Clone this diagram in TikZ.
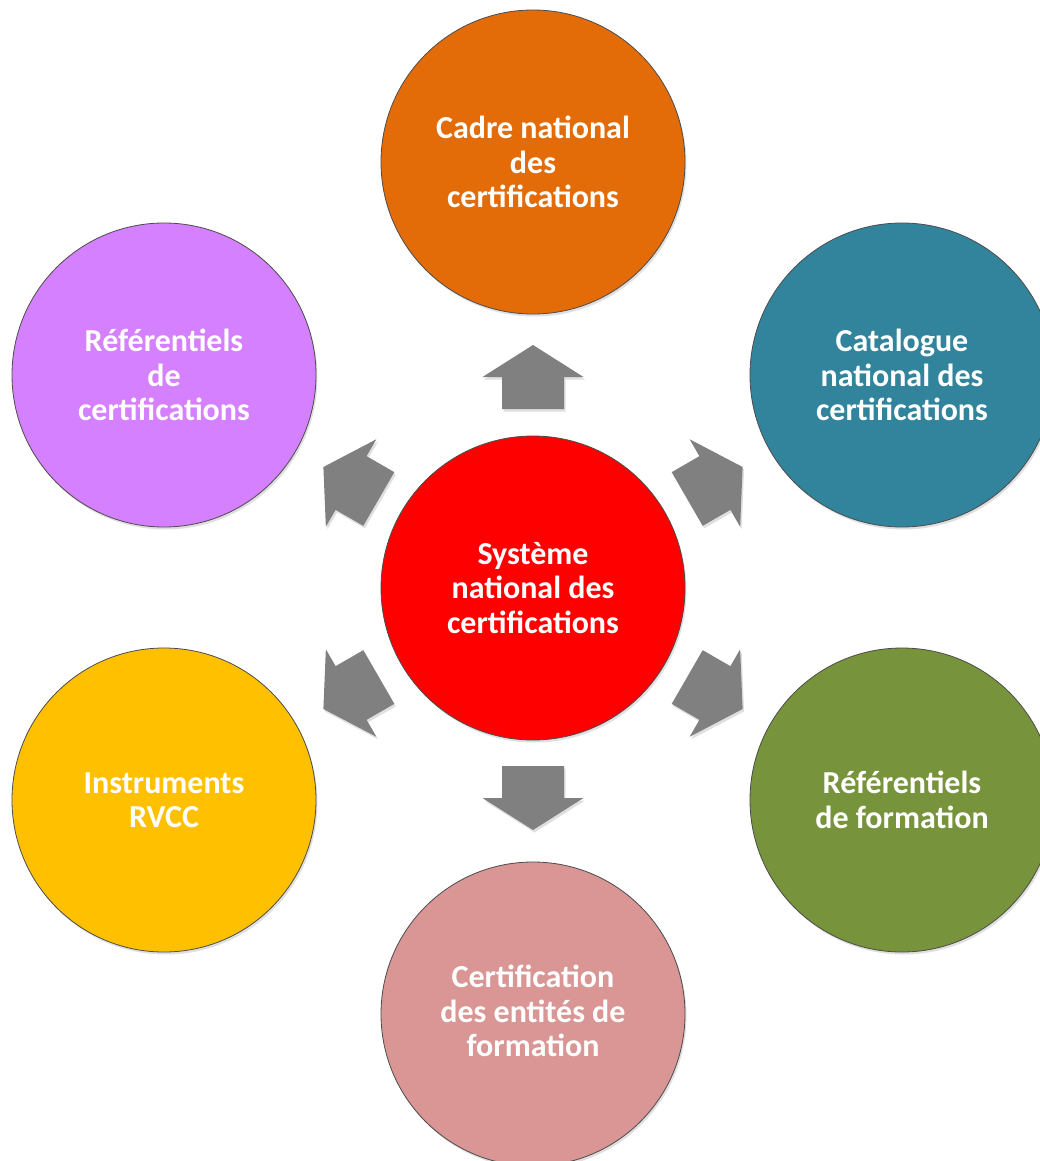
\documentclass[tikz,border=0pt]{standalone}
\usepackage{fontspec}
\setmainfont{Carlito}
\usetikzlibrary{shadows,calc}
\definecolor{corange}{HTML}{E36C09}
\definecolor{cteal}{HTML}{31849B}
\definecolor{cgreen}{HTML}{77933C}
\definecolor{cpink}{HTML}{D99694}
\definecolor{cyellow}{HTML}{FFC000}
\definecolor{cviolet}{HTML}{D580FF}
\definecolor{cred}{HTML}{FF0000}
\definecolor{carrow}{HTML}{808080}
\newcommand{\blockarrow}[3]{%
  \begin{scope}[shift={(#1,#2)}, rotate=#3]
    \fill[carrow, drop shadow={shadow xshift=1.5pt, shadow yshift=-2.5pt, opacity=0.25}]
      (32,0) -- (0,50.5) -- (0,31) -- (-32,31) -- (-32,-31) -- (0,-31) -- (0,-50.5) -- cycle;
  \end{scope}}
\begin{document}
\begin{tikzpicture}[x=1pt,y=-1pt,
  lbl/.style={text=white, font=\fontsize{32}{34.5}\selectfont\bfseries, align=center},
  circ/.style={circle, draw=black!70, line width=0.8pt, minimum size=304pt, inner sep=0pt,
    lbl, drop shadow={shadow xshift=1.5pt, shadow yshift=-2.5pt, opacity=0.25}}]
\useasboundingbox (0,0) rectangle (1040,1161);
\clip (0,0) rectangle (1040,1161);
\fill[white] (0,0) rectangle (1040,1161);
% outer circles
\node[circ, fill=corange] (cadre) at (533,162) {Cadre national\\des\\certifications};
\node[circ, fill=cteal] (catalogue) at (902,375) {Catalogue\\national des\\certifications};
\node[circ, fill=cgreen] (refform) at (902,800) {Référentiels\\de formation};
\node[circ, fill=cpink] (entites) at (533,1014) {};
\node[lbl] (entitestxt) at (533,1011) {Certification\\des entités de\\formation};
\node[circ, fill=cyellow] (rvcc) at (164,800) {Instruments\\RVCC};
\node[circ, fill=cviolet] (refcert) at (164,375) {Référentiels\\de\\certifications};
% center
\node[circ, fill=cred] (sys) at (533,588) {Système\\national des\\certifications};
% block arrows
\blockarrow{533}{377}{90}
\blockarrow{714.9}{483}{30}
\blockarrow{714.9}{693}{-30}
\blockarrow{533}{798}{-90}
\blockarrow{351.1}{693}{-150}
\blockarrow{351.1}{483}{150}
\end{tikzpicture}
\end{document}
